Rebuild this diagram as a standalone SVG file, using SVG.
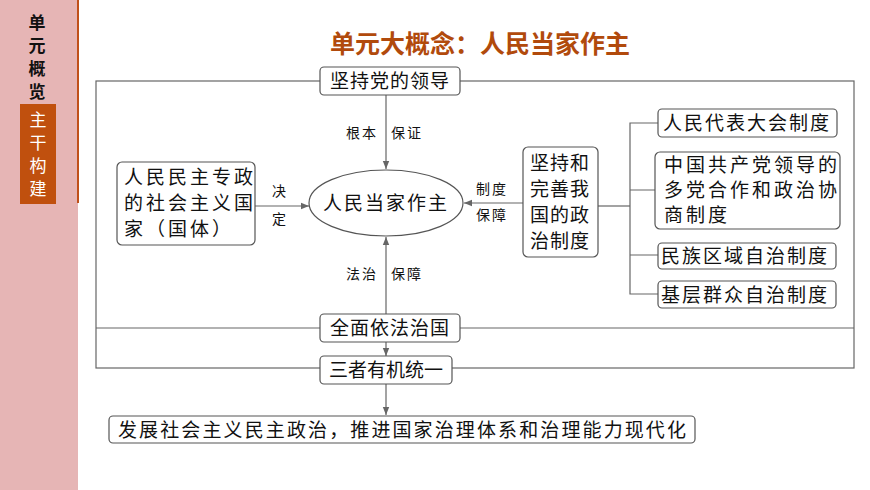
<svg xmlns="http://www.w3.org/2000/svg" width="870" height="490" viewBox="0 0 870 490">
<defs>
<marker id="ar" viewBox="0 0 10 10" refX="10" refY="5" markerWidth="7" markerHeight="7" orient="auto-start-reverse"><path d="M0,1 L10,5 L0,9 z" fill="#666"/></marker>
<style>
.b{fill:#fff;stroke:#555;stroke-width:1.2}
.l{stroke:#666;stroke-width:1.2;fill:none}
.t{font-family:"Liberation Serif","Noto Sans CJK SC",serif;font-size:19px;fill:#111;letter-spacing:1px}
.s{font-family:"Liberation Serif","Noto Sans CJK SC",serif;font-size:14px;fill:#111;letter-spacing:2px}
.v{font-family:"Noto Sans CJK SC",sans-serif;font-size:17px;text-anchor:middle}
</style>
</defs>
<rect width="870" height="490" fill="#fff"/>
<g id="sidebar">
<rect x="0" y="0" width="78" height="490" fill="#e6b5b5"/>
<line x1="78" y1="0" x2="78" y2="203" stroke="#c0501a" stroke-width="2"/>
<g class="v" font-weight="bold" fill="#111"><text x="37" y="29">单</text><text x="37" y="52">元</text><text x="37" y="75">概</text><text x="37" y="98">览</text></g>
<rect x="20" y="104" width="36" height="100" fill="#c0500e"/>
<g class="v" fill="#fff"><text x="38" y="126">主</text><text x="38" y="149">干</text><text x="38" y="172">构</text><text x="38" y="195">建</text></g>
</g>
<text x="480" y="53" text-anchor="middle" font-family="Noto Sans CJK SC,sans-serif" font-weight="bold" font-size="25" fill="#b14a0c">单元大概念：人民当家作主</text>
<g id="connectors">
<rect x="96" y="81" width="758" height="287" class="l"/>
<line x1="96" y1="328" x2="854" y2="328" class="l"/>
<line x1="386" y1="95" x2="386" y2="169" class="l" marker-end="url(#ar)"/>
<line x1="386" y1="314" x2="386" y2="237" class="l" marker-end="url(#ar)"/>
<line x1="255" y1="206" x2="309" y2="206" class="l" marker-end="url(#ar)"/>
<line x1="523" y1="203" x2="464" y2="203" class="l" marker-end="url(#ar)"/>
<line x1="598" y1="206" x2="630" y2="206" class="l"/>
<path d="M658,123 H630 V294 H658 M630,190 H655 M630,255 H658" class="l"/>
<line x1="386" y1="342" x2="386" y2="356" class="l" marker-end="url(#ar)"/>
<line x1="386" y1="384" x2="386" y2="415" class="l" marker-end="url(#ar)"/>
<text class="s" x="346" y="138">根本</text><text class="s" x="391" y="138">保证</text>
<text class="s" x="346" y="279">法治</text><text class="s" x="391" y="279">保障</text>
<text class="s" x="272" y="196">决</text><text class="s" x="272" y="224">定</text>
<text class="s" x="476" y="194">制度</text><text class="s" x="476" y="220">保障</text>
</g>
<g id="n1"><rect class="b" x="320" y="67" width="140" height="28" rx="4"/><text class="t" x="390" y="88" text-anchor="middle">坚持党的领导</text></g>
<g id="n2"><ellipse class="b" cx="386" cy="203" rx="77" ry="33"/><text class="t" x="386" y="210" text-anchor="middle" style="letter-spacing:2px">人民当家作主</text></g>
<g id="n3"><rect class="b" x="117" y="162" width="138" height="83" rx="5"/><text class="t" style="letter-spacing:3px"><tspan x="124" y="184">人民民主专政</tspan><tspan x="124" y="210">的社会主义国</tspan><tspan x="124" y="236">家（国体）</tspan></text></g>
<g id="n4"><rect class="b" x="523" y="147" width="75" height="110" rx="5"/><text class="t" style="letter-spacing:1px"><tspan x="530" y="170">坚持和</tspan><tspan x="530" y="196">完善我</tspan><tspan x="530" y="222">国的政</tspan><tspan x="530" y="248">治制度</tspan></text></g>
<g id="n5"><rect class="b" x="658" y="109" width="179" height="28" rx="4"/><text class="t" x="663" y="130" style="letter-spacing:2px">人民代表大会制度</text></g>
<g id="n6"><rect class="b" x="655" y="152" width="185" height="77" rx="5"/><text class="t" style="letter-spacing:3px"><tspan x="664" y="172">中国共产党领导的</tspan><tspan x="664" y="197">多党合作和政治协</tspan><tspan x="664" y="222">商制度</tspan></text></g>
<g id="n7"><rect class="b" x="658" y="243" width="178" height="26" rx="4"/><text class="t" x="661" y="263" style="letter-spacing:2px">民族区域自治制度</text></g>
<g id="n8"><rect class="b" x="658" y="281" width="178" height="27" rx="4"/><text class="t" x="661" y="302" style="letter-spacing:2px">基层群众自治制度</text></g>
<g id="n9"><rect class="b" x="320" y="314" width="140" height="28" rx="4"/><text class="t" x="390" y="335" text-anchor="middle">全面依法治国</text></g>
<g id="n10"><rect class="b" x="320" y="356" width="132" height="28" rx="4"/><text class="t" x="386" y="377" text-anchor="middle" style="letter-spacing:0">三者有机统一</text></g>
<g id="n11"><rect class="b" x="109" y="416" width="586" height="27" rx="4"/><text class="t" x="118" y="437" textLength="568" lengthAdjust="spacing" style="letter-spacing:0">发展社会主义民主政治，推进国家治理体系和治理能力现代化</text></g>
</svg>
